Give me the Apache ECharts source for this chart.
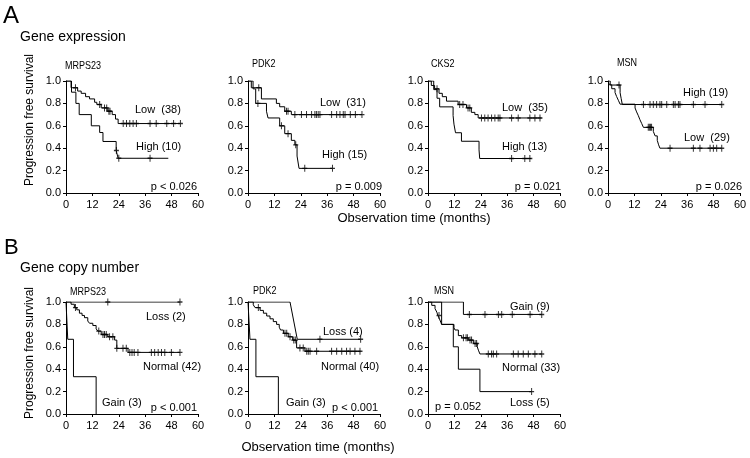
<!DOCTYPE html>
<html lang="en">
<head>
<meta charset="UTF-8">
<title>Progression free survival by gene expression and gene copy number</title>
<script src="https://cdn.jsdelivr.net/npm/echarts@6/dist/echarts.min.js"></script>
<style>
    body { margin: 0; padding: 0; background: #fff; }
    #chart { width: 750px; height: 458px; }
</style>
</head>
<body>
<div id="chart"></div>
<script>
// ---------- data (months, survival) ----------
// A: gene expression
const a1LowT  = [0, 2.3, 5.3, 6.9, 8.9, 10.7, 13, 14, 16, 19, 21, 22.5, 23.7, 52];
const a1LowS  = [1, 0.94, 0.91, 0.89, 0.86, 0.84, 0.81, 0.79, 0.76, 0.73, 0.70, 0.66, 0.62, 0.62];
const a1LowC  = [4.3, 15.3, 17.5, 18.5, 19.5, 20, 26, 27.5, 29, 30.5, 32, 38.2, 41, 45.8, 48.9, 52];
const a1HighT = [0, 2.5, 4.5, 6, 11.5, 15.3, 16.8, 22.8, 23.7, 46.5];
const a1HighS = [1, 0.9, 0.8, 0.7, 0.6, 0.54, 0.46, 0.38, 0.31, 0.31];
const a1HighC = [22.9, 24, 38.2];

const a2LowT  = [0, 1.5, 6.1, 12.9, 14.4, 16.7, 19.7, 51.8];
const a2LowS  = [1, 0.94, 0.84, 0.80, 0.77, 0.73, 0.70, 0.70];
const a2LowC  = [4.9, 17.5, 18.2, 21.3, 24.3, 26.6, 28.9, 30.4, 31.1, 31.9, 32.7, 38, 40.3, 41.8, 43.3, 44.1, 46.5, 48.8, 51.8];
const a2HighT = [0, 2.3, 3.5, 8.4, 9.1, 14.4, 16.7, 19.7, 21.3, 22.3, 23.2, 38.4];
const a2HighS = [1, 0.93, 0.80, 0.73, 0.67, 0.60, 0.53, 0.47, 0.43, 0.33, 0.22, 0.22];
const a2HighC = [4.5, 15.2, 18.2, 21.7, 25.8, 38.4];

const a3LowT  = [0, 1.5, 3.0, 5.0, 6.5, 8.4, 13.7, 17.5, 19.7, 21.3, 22.8, 51.6];
const a3LowS  = [1, 0.96, 0.93, 0.89, 0.86, 0.82, 0.79, 0.76, 0.72, 0.70, 0.67, 0.67];
const a3LowC  = [4.1, 14.4, 15.9, 18.2, 19, 24.3, 25.8, 27.3, 28.9, 30.4, 31.9, 32.7, 38, 41, 46.3, 48.6, 50.9];
const a3HighT = [0, 2.6, 4.1, 5.3, 11.4, 11.8, 12.5, 15.2, 23.2, 23.5, 46.9];
const a3HighS = [1, 0.923, 0.846, 0.769, 0.692, 0.615, 0.538, 0.462, 0.385, 0.308, 0.308];
const a3HighC = [38, 44, 46.3];

const a4HighT = [0, 1, 5.5, 6, 6.5, 51.7];
const a4HighS = [1, 0.964, 0.895, 0.842, 0.79, 0.79];
const a4HighC = [5, 16.1, 19.1, 20.6, 22.1, 23.6, 24.4, 26.7, 29.7, 30.5, 32, 32.7, 38.8, 44.1, 51.7];
const a4LowT  = [0, 0.6, 1.7, 3.2, 3.9, 4.7, 5.5, 12.3, 13, 13.8, 14.5, 15.3, 16.1, 20.6, 21.4, 22.4, 23, 23.6, 51.7];
const a4LowS  = [1, 0.966, 0.931, 0.897, 0.862, 0.828, 0.793, 0.759, 0.724, 0.690, 0.655, 0.621, 0.586, 0.55, 0.51, 0.47, 0.43, 0.40, 0.40];
const a4LowC  = [18.3, 18.8, 19.3, 19.8, 28.2, 38.8, 41.8, 46.4, 47.9, 49.4, 51.7];

// B: gene copy number
const b1LossT = [0, 51.8];
const b1LossS = [1, 1];
const b1LossC = [19, 51.8];
const b1GainT = [0, 0.8, 3.4, 13.7];
const b1GainS = [1, 0.667, 0.333, 0];
const b1NormT = [0, 2.3, 3.8, 4.9, 6.1, 7.3, 8.4, 9.9, 10.7, 12.2, 13.7, 14.5, 16, 19, 22.1, 23.1, 28.2, 51.8];
const b1NormS = [1, 0.98, 0.95, 0.93, 0.90, 0.88, 0.86, 0.83, 0.81, 0.79, 0.76, 0.74, 0.71, 0.69, 0.66, 0.586, 0.55, 0.55];
const b1NormC = [4.3, 14.9, 16.8, 17.5, 18.3, 19.8, 21.3, 23.1, 25.9, 27.4, 29, 30, 31, 32.7, 38.8, 40.3, 41.9, 43.4, 44.9, 47.9, 51.8];

const b2LossT = [0, 19.1, 22.4, 51.2];
const b2LossS = [1, 1, 0.667, 0.667];
const b2LossC = [32.7, 51.2];
const b2GainT = [0, 0.9, 3.6, 13.8];
const b2GainS = [1, 0.667, 0.333, 0];
const b2NormT = [0, 2.4, 3.2, 5.5, 7, 8.5, 10, 11.5, 13, 14.2, 14.8, 16.1, 18.3, 20.3, 22.1, 25.9, 51.2];
const b2NormS = [1, 0.975, 0.95, 0.925, 0.9, 0.875, 0.85, 0.825, 0.8, 0.775, 0.75, 0.72, 0.69, 0.66, 0.59, 0.56, 0.56];
const b2NormC = [4.7, 16.8, 17.6, 19.1, 20.8, 21.5, 23.6, 25.1, 26.7, 27.4, 28.2, 31.2, 38, 40.3, 42.6, 44.8, 46.4, 48.6, 50.9];

const b3GainT = [0, 16.1, 51.7];
const b3GainS = [1, 0.889, 0.889];
const b3GainC = [18.8, 25.9, 32, 33.5, 38.3, 46.4, 51.7];
const b3NormT = [0, 1.7, 3.2, 4.0, 4.5, 5.2, 5.8, 6.2, 11.8, 12.3, 13.8, 15.3, 18.3, 20.6, 22.4, 22.9, 23.6, 51.7];
const b3NormS = [1, 0.97, 0.94, 0.91, 0.88, 0.85, 0.82, 0.80, 0.77, 0.75, 0.70, 0.68, 0.66, 0.63, 0.60, 0.57, 0.536, 0.536];
const b3NormC = [5, 16.1, 17.3, 17.9, 19.1, 19.8, 21.4, 22.1, 27.4, 28.9, 29.7, 31.2, 38.8, 41, 43.3, 45.6, 48.6, 51.7];
const b3LossT = [0, 6.2, 11.5, 13.8, 23.6, 47.1];
const b3LossS = [1, 0.8, 0.6, 0.4, 0.2, 0.2];
const b3LossC = [47.1];

// panel titles and labels
const panelTitles = ['MRPS23', 'PDK2', 'CKS2', 'MSN', 'MRPS23', 'PDK2', 'MSN'];
const yTickFmt = v => v.toFixed(1);

// ---------- layout ----------
const gridBoxes = [
    [66, 81], [248, 81], [428, 81], [608, 81],
    [66, 302], [248, 302], [428, 302]
];
const gridW = 132, gridH = 112;
const FONT = '"Liberation Sans", Arial, sans-serif';

// [panel, times, survival, censored times, straight segments]
const curves = [
    [0, a1LowT, a1LowS, a1LowC], [0, a1HighT, a1HighS, a1HighC],
    [1, a2LowT, a2LowS, a2LowC], [1, a2HighT, a2HighS, a2HighC],
    [2, a3LowT, a3LowS, a3LowC], [2, a3HighT, a3HighS, a3HighC],
    [3, a4HighT, a4HighS, a4HighC], [3, a4LowT, a4LowS, a4LowC],
    [4, b1LossT, b1LossS, b1LossC], [4, b1GainT, b1GainS, []], [4, b1NormT, b1NormS, b1NormC],
    [5, b2LossT, b2LossS, b2LossC, true], [5, b2GainT, b2GainS, []], [5, b2NormT, b2NormS, b2NormC],
    [6, b3GainT, b3GainS, b3GainC], [6, b3NormT, b3NormS, b3NormC], [6, b3LossT, b3LossS, b3LossC]
];

function survAt(T, S, t) {
    let s = S[0];
    for (let i = 0; i < T.length; i++) if (T[i] <= t) s = S[i];
    return s;
}

const plusPath = 'path://M4,0h2v4h4v2h-4v4h-2v-4h-4v-2h4z';

const grids = [], xAxes = [], yAxes = [], series = [];
gridBoxes.forEach(([l, t], i) => {
    grids.push({ left: l, top: t, width: gridW, height: gridH, containLabel: false });
    xAxes.push({
        gridIndex: i, type: 'value', min: 0, max: 60, interval: 12,
        axisLine: { lineStyle: { color: '#000', width: 1 } },
        axisTick: { show: true, inside: false, length: 3, lineStyle: { color: '#000' } },
        axisLabel: { color: '#000', fontSize: 11, fontFamily: FONT, margin: 6 },
        splitLine: { show: false }
    });
    yAxes.push({
        gridIndex: i, type: 'value', min: 0, max: 1, interval: 0.2,
        axisLine: { show: true, lineStyle: { color: '#000', width: 1 } },
        axisTick: { show: true, inside: false, length: 3, lineStyle: { color: '#000' } },
        axisLabel: { color: '#000', fontSize: 11, fontFamily: FONT, margin: 5, formatter: yTickFmt },
        splitLine: { show: false }
    });
});

curves.forEach(([p, T, S, C, straight]) => {
    series.push({
        type: 'line', xAxisIndex: p, yAxisIndex: p,
        data: T.map((t, i) => [t, S[i]]),
        step: straight ? false : 'end',
        symbol: 'none', silent: true,
        lineStyle: { color: '#000', width: 1 }
    });
    if (C.length) {
        series.push({
            type: 'scatter', xAxisIndex: p, yAxisIndex: p,
            data: C.map(t => [t, survAt(T, S, t)]),
            symbol: plusPath, symbolSize: [5, 7], silent: true,
            itemStyle: { color: '#000' }
        });
    }
});

// texts: [text, x, y, align, size]
const texts = [
    ['A', 3, 16, 'left', 24], ['B', 4, 248, 'left', 22],
    ['Gene expression', 20, 37, 'left', 14], ['Gene copy number', 20, 268, 'left', 14],
    ['Observation time (months)', 414, 218, 'center', 13],
    ['Observation time (months)', 318, 447, 'center', 13],
    ['Low  (38)', 135, 110, 'left', 11], ['High (10)', 136, 147, 'left', 11], ['p < 0.026', 197, 187, 'right', 11],
    ['Low  (31)', 320, 103, 'left', 11], ['High (15)', 322, 155, 'left', 11], ['p = 0.009', 382, 187, 'right', 11],
    ['Low  (35)', 502, 108, 'left', 11], ['High (13)', 502, 147, 'left', 11], ['p = 0.021', 561, 187, 'right', 11],
    ['High (19)', 683, 93, 'left', 11], ['Low  (29)', 684, 138, 'left', 11], ['p = 0.026', 742, 187, 'right', 11],
    ['Loss (2)', 146, 317, 'left', 11], ['Normal (42)', 143, 367, 'left', 11], ['Gain (3)', 102, 403, 'left', 11], ['p < 0.001', 197, 408, 'right', 11],
    ['Loss (4)', 323, 332, 'left', 11], ['Normal (40)', 321, 367, 'left', 11], ['Gain (3)', 286, 403, 'left', 11], ['p < 0.001', 332, 408, 'left', 11],
    ['Gain (9)', 510, 307, 'left', 11], ['Normal (33)', 502, 368, 'left', 11], ['Loss (5)', 510, 403, 'left', 11], ['p = 0.052', 435, 407, 'left', 11]
];
const titlePos = [[65, 66], [252, 64], [431, 64], [617, 63], [70, 292], [253, 291], [434, 291]];

const graphic = texts.map(([t, x, y, a, s]) => ({
    type: 'text', x: x, y: y, silent: true,
    style: { text: t, fill: '#000', font: s + 'px ' + FONT, textAlign: a, textVerticalAlign: 'middle' }
}));
panelTitles.forEach((t, i) => {
    graphic.push({
        type: 'text', x: titlePos[i][0], y: titlePos[i][1], scaleX: 0.82, silent: true,
        style: { text: t, fill: '#000', font: '11px ' + FONT, textAlign: 'left', textVerticalAlign: 'middle' }
    });
});
[[30, 120], [30, 353]].forEach(([x, y]) => {
    graphic.push({
        type: 'text', x: x, y: y, rotation: Math.PI / 2, silent: true,
        style: { text: 'Progression free survival', fill: '#000', font: '12px ' + FONT, textAlign: 'center', textVerticalAlign: 'middle' }
    });
});

const myChart = echarts.init(document.getElementById('chart'));
myChart.setOption({
    backgroundColor: '#fff',
    animation: false,
    grid: grids,
    xAxis: xAxes,
    yAxis: yAxes,
    series: series,
    graphic: graphic
});
</script>
</body>
</html>
